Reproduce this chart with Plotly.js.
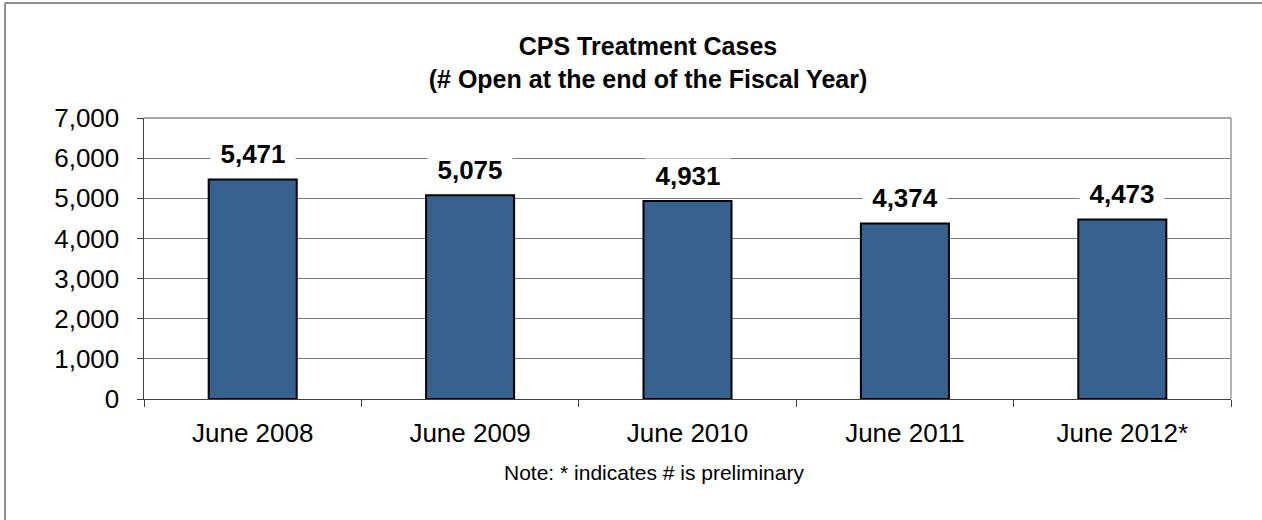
<!DOCTYPE html>
<html>
<head>
<meta charset="utf-8">
<script src="https://cdn.plot.ly/plotly-3.0.1.min.js"></script>
<style>
html,body{margin:0;padding:0;background:#fff;}
#chart{width:1262px;height:520px;}
</style>
</head>
<body>
<div id="chart"></div>
<script>
const categories = ["June 2008", "June 2009", "June 2010", "June 2011", "June 2012*"];
const cases = [5471, 5075, 4931, 4374, 4473];
const yTicks = [0, 1000, 2000, 3000, 4000, 5000, 6000, 7000];

const FONT = "Liberation Sans, Arial, sans-serif";

const trace = {
  type: "bar",
  x: categories,
  y: cases,
  marker: {color: "#37618f", line: {color: "#000000", width: 2}},
  hoverinfo: "skip"
};

const labels = categories.map((c, i) => ({
  x: c, y: cases[i], xref: "x", yref: "y",
  text: "<b>" + cases[i].toLocaleString("en-US") + "</b>",
  showarrow: false, yanchor: "middle", yshift: 25,
  bgcolor: "#ffffff", borderpad: 2,
  font: {family: FONT, size: 26, color: "#000"},
  width: 80
}));

labels.push({
  xref: "paper", yref: "paper", x: (654 - 144) / 1087, y: (399 - 472) / 281,
  xanchor: "center", yanchor: "middle", showarrow: false,
  text: "Note: * indicates # is preliminary",
  font: {family: FONT, size: 21, color: "#000"}
});

const layout = {
  width: 1262, height: 520,
  margin: {l: 144, r: 31, t: 118, b: 121},
  paper_bgcolor: "#ffffff", plot_bgcolor: "#ffffff",
  showlegend: false,
  bargap: 0.595,
  title: {
    text: "<b>CPS Treatment Cases<br>(# Open at the end of the Fiscal Year)</b>",
    font: {family: FONT, size: 25, color: "#000"},
    x: 648/1262, xref: "container", xanchor: "center",
    y: 1 - 55/520, yref: "container", yanchor: "middle"
  },
  xaxis: {
    type: "category",
    tickson: "boundaries",
    ticks: "outside", ticklen: 7, tickcolor: "#404040", tickwidth: 1,
    showline: true, linecolor: "#404040", linewidth: 1,
    showgrid: false,
    tickfont: {family: FONT, size: 26, color: "#000"},
    ticklabelstandoff: 11
  },
  yaxis: {
    range: [0, 7000],
    tickvals: yTicks,
    ticktext: yTicks.map(v => v.toLocaleString("en-US")),
    ticks: "outside", ticklen: 6, tickcolor: "#404040", tickwidth: 1,
    showline: true, linecolor: "#404040", linewidth: 1.5,
    showgrid: true, gridcolor: "#7a7a7a", gridwidth: 1,
    zeroline: false,
    tickfont: {family: FONT, size: 26, color: "#000"},
    ticklabelstandoff: 12
  },
  shapes: [
    {type: "line", xref: "x domain", yref: "y domain", x0: 1, x1: 1, y0: 0, y1: 1,
     line: {color: "#9a9a9a", width: 1.5}},
    {type: "line", xref: "x domain", yref: "y domain", x0: 0, x1: 1, y0: 1, y1: 1,
     line: {color: "#8a8a8a", width: 1.5}},
    {type: "line", xref: "paper", yref: "paper",
     x0: (5-144)/1087, x1: (5-144)/1087, y0: (399-3)/281, y1: (399-530)/281,
     line: {color: "#6e6e6e", width: 1.5}},
    {type: "line", xref: "paper", yref: "paper",
     x0: (5-144)/1087, x1: (1270-144)/1087, y0: (399-3)/281, y1: (399-3)/281,
     line: {color: "#6e6e6e", width: 1.5}}
  ],
  annotations: labels
};

Plotly.newPlot("chart", [trace], layout, {displayModeBar: false, staticPlot: true});
</script>
</body>
</html>
